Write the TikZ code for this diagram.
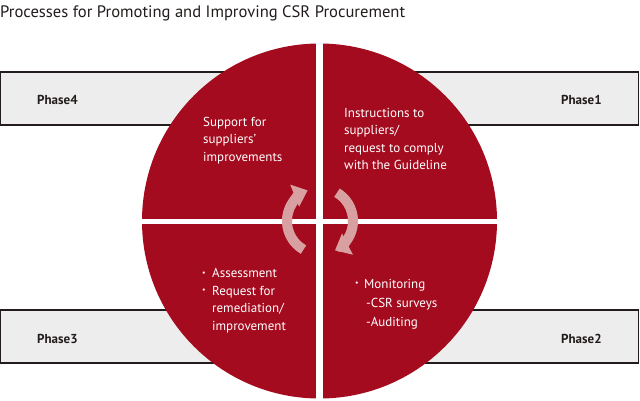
\documentclass[tikz,border=0pt]{standalone}
\usepackage{fontspec}
\setmainfont{PT Sans}
\usetikzlibrary{arrows.meta,calc}
\definecolor{csrred}{RGB}{165,11,30}
\definecolor{boxgrey}{RGB}{237,237,237}
\definecolor{boxline}{RGB}{35,28,28}
\definecolor{arrowpink}{RGB}{216,160,160}
\definecolor{titlegrey}{RGB}{35,28,28}
\tikzset{
  phasebox/.style={draw=boxline, line width=1.2pt, fill=boxgrey},
  phaselabel/.style={font=\fontsize{13}{15}\selectfont\bfseries, text=boxline, inner sep=0pt, anchor=base west},
  quadtext/.style={font=\fontsize{13}{17.5}\selectfont, text=white, align=left, inner sep=0pt, anchor=base west},
  cyclearrow/.style={draw=arrowpink, line width=10pt, -{Triangle[width=23pt,length=14pt]}},
}
\newcommand{\smallbul}{\raisebox{2.5pt}{\scalebox{0.6}{•}}}
\begin{document}
\begin{tikzpicture}[x=1pt,y=1pt]
\useasboundingbox (0,0) rectangle (640,-400);
% title
\node[font=\fontsize{16.6}{19}\selectfont, text=titlegrey, anchor=base west, inner sep=0pt] (title) at (0,-17) {Processes for Promoting and Improving CSR Procurement};
% background bands
\draw[phasebox] (0.6,-72) rectangle (638.5,-125);
\draw[phasebox] (0.6,-310) rectangle (638.5,-363);
% circle
\fill[csrred] (319.5,-221) circle (177.5);
\fill[white] (316,-40) rectangle (323,-402);
\fill[white] (138,-219) rectangle (501,-224);
% phase labels
\node[phaselabel] (p4) at (37,-104) {Phase4};
\node[phaselabel] (p1) at (561,-104) {Phase1};
\node[phaselabel] (p3) at (37,-343) {Phase3};
\node[phaselabel] (p2) at (561,-343) {Phase2};
% quadrant texts (anchor at baseline of last line)
\node[quadtext] (q4) at (203,-161) {Support for\\suppliers'\\improvements};
\node[quadtext] (q1) at (344,-169.5) {Instructions to\\suppliers/\\request to comply\\with the Guideline};
\node[quadtext] (q3) at (202,-330) {\makebox[10pt][l]{\smallbul}Assessment\\\makebox[10pt][l]{\smallbul}Request for\\\hspace*{10pt}remediation/\\\hspace*{10pt}improvement};
\node[quadtext, font=\fontsize{13}{19}\selectfont] (q2) at (355,-326) {\makebox[9pt][l]{\smallbul}Monitoring\\\hspace*{11pt}-CSR surveys\\\hspace*{11pt}-Auditing};
% cycle arrows
\coordinate (c) at (320,-221);
\draw[cyclearrow] ($(c)+(240:33)$) arc (240:112:33) coordinate (la);
\draw[cyclearrow] ($(c)+(59:33)$) arc (59:-63:33) coordinate (ra);
\end{tikzpicture}
\end{document}
